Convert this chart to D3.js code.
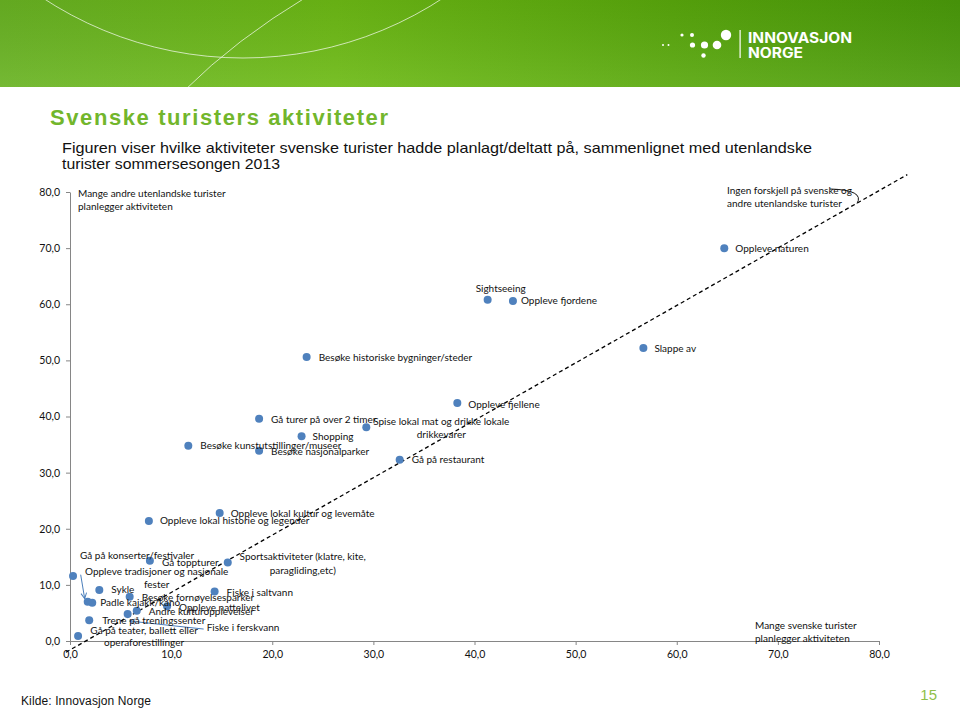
<!DOCTYPE html>
<html><head><meta charset="utf-8">
<script src="https://cdn.jsdelivr.net/npm/d3@7"></script>
<style>body{margin:0;background:#fff;} svg{display:block;}</style>
</head><body>
<svg id="c" width="960" height="709"></svg>
<script>
// ---------- DATA ----------
const activities = [
  "Oppleve naturen","Sightseeing","Oppleve fjordene","Besøke historiske bygninger/steder","Slappe av",
  "Oppleve fjellene","Gå turer på over 2 timer","Spise lokal mat og drikke lokale drikkevarer","Shopping",
  "Besøke kunstutstillinger/museer","Besøke nasjonalparker","Gå på restaurant","Oppleve lokal kultur og levemåte",
  "Oppleve lokal historie og legender","Gå på konserter/festivaler","Gå toppturer",
  "Sportsaktiviteter (klatre, kite, paragliding,etc)","Sykle","Besøke fornøyelsesparker","Fiske i saltvann",
  "Oppleve tradisjoner og nasjonale fester","Padle kajakk/kano","Andre kulturopplevelser","Fiske i ferskvann",
  "Oppleve nattelivet","Trene på treningssenter","Gå på teater, ballett eller operaforestillinger"
];
// x: share of Swedish tourists (%)
const svenskeTurister = [64.7,41.3,43.8,23.4,56.7,38.3,18.7,29.3,22.9,11.7,18.7,32.6,14.8,7.8,0.3,7.9,15.6,2.9,5.9,14.3,1.75,2.2,6.6,5.7,9.6,1.9,0.8];
// y: share of other foreign tourists (%)
const andreUtenlandske = [70.0,60.8,60.6,50.6,52.2,42.4,39.6,38.1,36.5,34.8,33.9,32.3,22.8,21.4,11.6,14.3,14.0,9.1,7.9,8.8,7.0,6.8,5.4,4.8,6.2,3.7,0.9];
// label text broken into lines
const labelLines = [
  ["Oppleve naturen"],["Sightseeing"],["Oppleve fjordene"],["Besøke historiske bygninger/steder"],["Slappe av"],
  ["Oppleve fjellene"],["Gå turer på over 2 timer"],["Spise lokal mat og drikke lokale","drikkevarer"],["Shopping"],
  ["Besøke kunstutstillinger/museer"],["Besøke nasjonalparker"],["Gå på restaurant"],["Oppleve lokal kultur og levemåte"],
  ["Oppleve lokal historie og legender"],["Gå på konserter/festivaler"],["Gå toppturer"],
  ["Sportsaktiviteter (klatre, kite,","paragliding,etc)"],["Sykle"],["Besøke fornøyelsesparker"],["Fiske i saltvann"],
  ["Oppleve tradisjoner og nasjonale","fester"],["Padle kajakk/kano"],["Andre kulturopplevelser"],["Fiske i ferskvann"],
  ["Oppleve nattelivet"],["Trene på treningssenter"],["Gå på teater, ballett eller","operaforestillinger"]
];
const xTicks = [0,10,20,30,40,50,60,70,80];
const yTicks = [0,10,20,30,40,50,60,70,80];
const diagonal = [[-0.4,-2.0],[82.8,83.1]];
const cornerNotes = [
  ["Mange andre utenlandske turister","planlegger aktiviteten"],
  ["Ingen forskjell på svenske og","andre utenlandske turister"],
  ["Mange svenske turister","planlegger aktiviteten"]
];

// ---------- LAYOUT (label offsets from each point, px) ----------
const labelPlacement = [
  {dx:11,dy:0},{dx:-12,dy:-11},{dx:8,dy:0},{dx:12,dy:0},{dx:11,dy:0},
  {dx:11,dy:1},{dx:12,dy:1},{dx:75,dy:-6,a:"middle",lh:13},{dx:11,dy:0},
  {dx:12,dy:0},{dx:12,dy:1},{dx:12,dy:0},{dx:11,dy:0},
  {dx:11,dy:0},{dx:7,dy:-20},{dx:12,dy:2},
  {dx:75,dy:-5.5,a:"middle",lh:13.5},{dx:12,dy:0},{dx:12,dy:1},{dx:12,dy:1},
  {dx:69,dy:-30,a:"middle",lh:12.5},{dx:8,dy:0},{dx:12,dy:1},{dx:79,dy:13},
  {dx:12,dy:1},{dx:13,dy:0},{dx:66,dy:-5.7,a:"middle",lh:12.7}
];

const svg = d3.select("#c");
const defs = svg.append("defs");

// ---------- HEADER BANNER ----------
const hg = defs.append("linearGradient").attr("id","hg").attr("x1","0").attr("x2","1").attr("y1","0").attr("y2","0");
[["0%","#69b323"],["35%","#6dba15"],["70%","#59a80c"],["100%","#4a9a0a"]].forEach(s=>hg.append("stop").attr("offset",s[0]).attr("stop-color",s[1]));
const vg = defs.append("linearGradient").attr("id","vg").attr("x1","0").attr("x2","0").attr("y1","0").attr("y2","1");
vg.append("stop").attr("offset","0%").attr("stop-color","#000").attr("stop-opacity",0.06);
vg.append("stop").attr("offset","100%").attr("stop-color","#fff").attr("stop-opacity",0.08);
svg.append("rect").attr("width",960).attr("height",87).attr("fill","url(#hg)");
svg.append("rect").attr("width",960).attr("height",87).attr("fill","url(#vg)");
const clip = defs.append("clipPath").attr("id","bc");
clip.append("rect").attr("width",960).attr("height",87);
const deco = svg.append("g").attr("clip-path","url(#bc)").attr("fill","none").attr("stroke","#fff").attr("stroke-opacity",0.75).attr("stroke-width",0.9);
deco.append("circle").attr("cx",243).attr("cy",-306).attr("r",364);
deco.append("path").attr("d","M185,90 Q235,40 308,-4");

// logo
const logo = svg.append("g").attr("fill","#fff");
[[663,45,1],[668.5,45,1],[682,35,1.6],[692,35,2],[692.5,45,2.6],[704.5,45,3.6],[717,45,4.3],[703.5,55.5,2.2],[726,35,5.2]]
  .forEach(d=>logo.append("circle").attr("cx",d[0]).attr("cy",d[1]).attr("r",d[2]));
logo.append("rect").attr("x",739.5).attr("y",30).attr("width",1.2).attr("height",28);
logo.append("text").attr("x",748).attr("y",42.5).attr("font-family","Inter, DejaVu Sans").attr("font-weight",700)
  .attr("font-size",14).attr("textLength",104).attr("lengthAdjust","spacingAndGlyphs").text("INNOVASJON");
logo.append("text").attr("x",748).attr("y",57.5).attr("font-family","Inter, DejaVu Sans").attr("font-weight",700)
  .attr("font-size",14).attr("textLength",55).attr("lengthAdjust","spacingAndGlyphs").text("NORGE");

// ---------- TITLES ----------
svg.append("text").attr("x",50).attr("y",124.5).attr("font-family","Liberation Sans, Arial").attr("font-weight",700)
  .attr("font-size",22).attr("fill","#72b62c").attr("textLength",338).attr("lengthAdjust","spacing").text("Svenske turisters aktiviteter");
const sub = ["Figuren viser hvilke aktiviteter svenske turister hadde planlagt/deltatt på, sammenlignet med utenlandske","turister sommersesongen 2013"];
const subLen = [750,218];
sub.forEach((t,i)=>svg.append("text").attr("x",62).attr("y",153+i*16).attr("font-family","Liberation Sans, Arial")
  .attr("font-size",14.5).attr("fill","#111").attr("textLength",subLen[i]).attr("lengthAdjust","spacingAndGlyphs").text(t));
svg.append("text").attr("x",21).attr("y",705).attr("font-family","Liberation Sans, Arial").attr("font-size",12)
  .attr("fill","#111").attr("textLength",130).attr("lengthAdjust","spacing").text("Kilde: Innovasjon Norge");
svg.append("text").attr("x",937).attr("y",700).attr("text-anchor","end").attr("font-family","Liberation Sans, Arial")
  .attr("font-size",15).attr("fill","#8fbf4a").text("15");

// ---------- CHART ----------
const x = d3.scaleLinear().domain([0,80]).range([70,879]);
const y = d3.scaleLinear().domain([0,80]).range([641,192]);
const fmt = d => d.toFixed(1).replace(".",",");
const font = "Lato, Open Sans, sans-serif";
const fs = 10;

const gx = svg.append("g").attr("transform",`translate(0,${y(0)})`)
  .call(d3.axisBottom(x).tickValues(xTicks).tickFormat(fmt).tickSize(4).tickSizeOuter(0));
const gy = svg.append("g").attr("transform",`translate(${x(0)},0)`)
  .call(d3.axisLeft(y).tickValues(yTicks).tickFormat(fmt).tickSize(4).tickSizeOuter(0));
[gx,gy].forEach(g=>{
  g.selectAll("path,line").attr("stroke","#868686");
  g.selectAll("text").attr("font-family",font).attr("font-size",10.5).attr("fill","#111");
});
gx.selectAll("text").attr("dy","0.95em");
gy.selectAll("text").attr("x",-10);

// diagonal
svg.append("path").datum(diagonal)
  .attr("d",d3.line().x(d=>x(d[0])).y(d=>y(d[1])))
  .attr("stroke","#000").attr("stroke-width",1.3).attr("stroke-dasharray","4,3").attr("fill","none");

// corner notes
const notePos = [{x:78,y:193,a:"start"},{x:727,y:190,a:"start"},{x:755,y:625,a:"start"}];
cornerNotes.forEach((lines,i)=>{
  lines.forEach((t,j)=>svg.append("text").attr("x",notePos[i].x).attr("y",notePos[i].y+j*13).attr("dy","0.35em")
    .attr("font-family",font).attr("font-size",fs).attr("fill","#111").text(t));
});
svg.append("path").attr("d","M830,189 Q865,190 857,203.5").attr("fill","none").attr("stroke","#111").attr("stroke-width",1);

// points
const data = activities.map((a,i)=>({name:a, sx:svenskeTurister[i], ay:andreUtenlandske[i], lines:labelLines[i], p:labelPlacement[i]}));
svg.append("g").selectAll("circle").data(data).join("circle")
  .attr("cx",d=>x(d.sx)).attr("cy",d=>y(d.ay)).attr("r",4).attr("fill","#4f81bd");

// arrows
defs.append("marker").attr("id","ah").attr("viewBox","0 0 10 10").attr("refX",9).attr("refY",5)
  .attr("markerWidth",7).attr("markerHeight",7).attr("orient","auto-start-reverse")
  .append("path").attr("d","M1,1 L9,5 L1,9").attr("fill","none").attr("stroke","#4a7ebb").attr("stroke-width",1.4);
const trad = data[20], fersk = data[23];
svg.append("line").attr("x1",x(trad.sx)-7).attr("y1",y(trad.ay)-27).attr("x2",x(trad.sx)-3).attr("y2",y(trad.ay)-3)
  .attr("stroke","#4a7ebb").attr("stroke-width",1).attr("marker-end","url(#ah)");
svg.append("line").attr("x1",x(fersk.sx)+76).attr("y1",y(fersk.ay)+15).attr("x2",x(fersk.sx)+2).attr("y2",y(fersk.ay)+7)
  .attr("stroke","#4a7ebb").attr("stroke-width",1).attr("marker-end","url(#ah)");

// labels
const lg = svg.append("g").attr("font-family",font).attr("font-size",fs).attr("fill","#111");
data.forEach(d=>{
  const px = x(d.sx), py = y(d.ay), p = d.p;
  d.lines.forEach((t,j)=>lg.append("text").attr("x",px+p.dx).attr("y",py+p.dy+j*(p.lh||13)).attr("dy","0.35em")
    .attr("text-anchor",p.a||"start").text(t));
});
</script>
</body></html>
